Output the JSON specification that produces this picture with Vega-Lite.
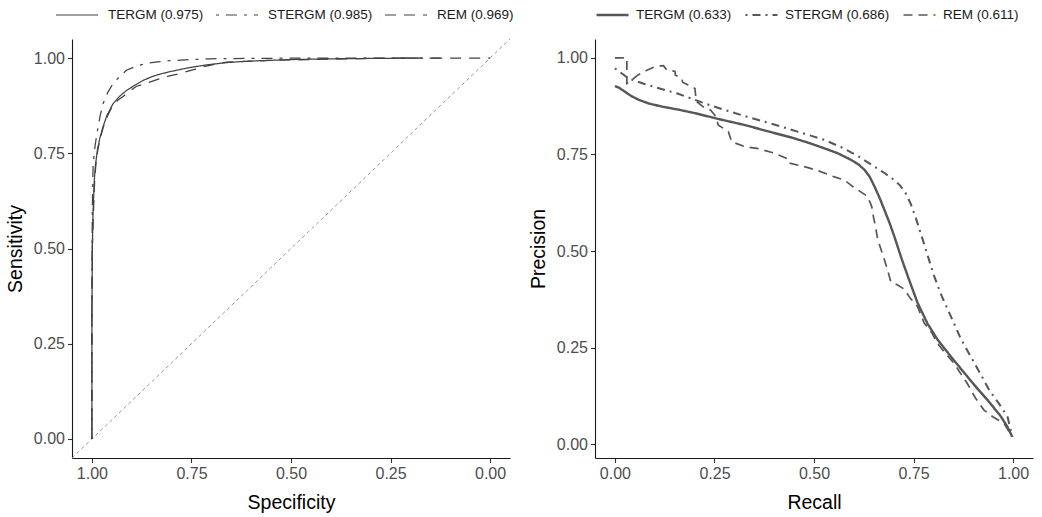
{
  "$schema": "https://vega.github.io/schema/vega-lite/v6.json",
  "background": "white",
  "padding": {"left": 5, "top": 7, "right": 5, "bottom": 5},
  "spacing": 14,
  "config": {
    "view": {"stroke": null},
    "font": "Liberation Sans",
    "axis": {
      "grid": false,
      "domainColor": "#1a1a1a",
      "domainWidth": 1.1,
      "tickColor": "#333333",
      "tickWidth": 1.1,
      "tickSize": 4.5,
      "labelFont": "Liberation Sans",
      "labelFontSize": 16,
      "labelColor": "#4D4D4D",
      "labelPadding": 3,
      "titleFont": "Liberation Sans",
      "titleFontSize": 19.5,
      "titleFontWeight": "normal",
      "titleColor": "#000000",
      "titlePadding": 8
    },
    "axisX": {"labelPadding": 3, "titlePadding": 12}
  },
  "datasets": {
    "roc": [
      {"model": "TERGM (0.975)", "spec": 1.0, "sens": 0.0},
      {"model": "TERGM (0.975)", "spec": 1.0, "sens": 0.3},
      {"model": "TERGM (0.975)", "spec": 0.999, "sens": 0.5},
      {"model": "TERGM (0.975)", "spec": 0.997, "sens": 0.6},
      {"model": "TERGM (0.975)", "spec": 0.994, "sens": 0.68},
      {"model": "TERGM (0.975)", "spec": 0.991, "sens": 0.72},
      {"model": "TERGM (0.975)", "spec": 0.986, "sens": 0.76},
      {"model": "TERGM (0.975)", "spec": 0.98, "sens": 0.79},
      {"model": "TERGM (0.975)", "spec": 0.972, "sens": 0.82},
      {"model": "TERGM (0.975)", "spec": 0.962, "sens": 0.85},
      {"model": "TERGM (0.975)", "spec": 0.947, "sens": 0.88},
      {"model": "TERGM (0.975)", "spec": 0.93, "sens": 0.9},
      {"model": "TERGM (0.975)", "spec": 0.913, "sens": 0.915},
      {"model": "TERGM (0.975)", "spec": 0.89, "sens": 0.93},
      {"model": "TERGM (0.975)", "spec": 0.87, "sens": 0.942},
      {"model": "TERGM (0.975)", "spec": 0.847, "sens": 0.952},
      {"model": "TERGM (0.975)", "spec": 0.825, "sens": 0.959},
      {"model": "TERGM (0.975)", "spec": 0.805, "sens": 0.964},
      {"model": "TERGM (0.975)", "spec": 0.76, "sens": 0.974},
      {"model": "TERGM (0.975)", "spec": 0.713, "sens": 0.982},
      {"model": "TERGM (0.975)", "spec": 0.662, "sens": 0.988},
      {"model": "TERGM (0.975)", "spec": 0.62, "sens": 0.991},
      {"model": "TERGM (0.975)", "spec": 0.579, "sens": 0.993},
      {"model": "TERGM (0.975)", "spec": 0.5, "sens": 0.996},
      {"model": "TERGM (0.975)", "spec": 0.4, "sens": 0.998},
      {"model": "TERGM (0.975)", "spec": 0.3, "sens": 0.999},
      {"model": "TERGM (0.975)", "spec": 0.18, "sens": 1.0},
      {"model": "STERGM (0.985)", "spec": 1.0, "sens": 0.0},
      {"model": "STERGM (0.985)", "spec": 1.0, "sens": 0.4},
      {"model": "STERGM (0.985)", "spec": 0.999, "sens": 0.6},
      {"model": "STERGM (0.985)", "spec": 0.997, "sens": 0.72},
      {"model": "STERGM (0.985)", "spec": 0.992, "sens": 0.77},
      {"model": "STERGM (0.985)", "spec": 0.986, "sens": 0.81},
      {"model": "STERGM (0.985)", "spec": 0.979, "sens": 0.85},
      {"model": "STERGM (0.985)", "spec": 0.972, "sens": 0.88},
      {"model": "STERGM (0.985)", "spec": 0.96, "sens": 0.91},
      {"model": "STERGM (0.985)", "spec": 0.947, "sens": 0.933},
      {"model": "STERGM (0.985)", "spec": 0.93, "sens": 0.952},
      {"model": "STERGM (0.985)", "spec": 0.913, "sens": 0.968},
      {"model": "STERGM (0.985)", "spec": 0.89, "sens": 0.978},
      {"model": "STERGM (0.985)", "spec": 0.863, "sens": 0.986},
      {"model": "STERGM (0.985)", "spec": 0.835, "sens": 0.99},
      {"model": "STERGM (0.985)", "spec": 0.805, "sens": 0.993},
      {"model": "STERGM (0.985)", "spec": 0.75, "sens": 0.996},
      {"model": "STERGM (0.985)", "spec": 0.704, "sens": 0.998},
      {"model": "STERGM (0.985)", "spec": 0.6, "sens": 0.999},
      {"model": "STERGM (0.985)", "spec": 0.45, "sens": 1.0},
      {"model": "STERGM (0.985)", "spec": 0.12, "sens": 1.0},
      {"model": "REM (0.969)", "spec": 1.0, "sens": 0.0},
      {"model": "REM (0.969)", "spec": 1.0, "sens": 0.3},
      {"model": "REM (0.969)", "spec": 0.999, "sens": 0.5},
      {"model": "REM (0.969)", "spec": 0.996, "sens": 0.6},
      {"model": "REM (0.969)", "spec": 0.993, "sens": 0.68},
      {"model": "REM (0.969)", "spec": 0.99, "sens": 0.72},
      {"model": "REM (0.969)", "spec": 0.985, "sens": 0.76},
      {"model": "REM (0.969)", "spec": 0.979, "sens": 0.79},
      {"model": "REM (0.969)", "spec": 0.971, "sens": 0.82},
      {"model": "REM (0.969)", "spec": 0.96, "sens": 0.85},
      {"model": "REM (0.969)", "spec": 0.947, "sens": 0.877},
      {"model": "REM (0.969)", "spec": 0.935, "sens": 0.889},
      {"model": "REM (0.969)", "spec": 0.921, "sens": 0.9},
      {"model": "REM (0.969)", "spec": 0.905, "sens": 0.913},
      {"model": "REM (0.969)", "spec": 0.888, "sens": 0.926},
      {"model": "REM (0.969)", "spec": 0.865, "sens": 0.933},
      {"model": "REM (0.969)", "spec": 0.846, "sens": 0.94},
      {"model": "REM (0.969)", "spec": 0.825, "sens": 0.947},
      {"model": "REM (0.969)", "spec": 0.805, "sens": 0.953},
      {"model": "REM (0.969)", "spec": 0.785, "sens": 0.958},
      {"model": "REM (0.969)", "spec": 0.767, "sens": 0.963},
      {"model": "REM (0.969)", "spec": 0.74, "sens": 0.971},
      {"model": "REM (0.969)", "spec": 0.713, "sens": 0.979},
      {"model": "REM (0.969)", "spec": 0.69, "sens": 0.984},
      {"model": "REM (0.969)", "spec": 0.662, "sens": 0.989},
      {"model": "REM (0.969)", "spec": 0.612, "sens": 0.991},
      {"model": "REM (0.969)", "spec": 0.55, "sens": 0.994},
      {"model": "REM (0.969)", "spec": 0.5, "sens": 0.995},
      {"model": "REM (0.969)", "spec": 0.4, "sens": 0.997},
      {"model": "REM (0.969)", "spec": 0.3, "sens": 0.999},
      {"model": "REM (0.969)", "spec": 0.2, "sens": 1.0},
      {"model": "REM (0.969)", "spec": 0.0, "sens": 1.0}
    ],
    "pr": [
      {"model": "TERGM (0.633)", "recall": 0.0, "precision": 0.927},
      {"model": "TERGM (0.633)", "recall": 0.01, "precision": 0.923},
      {"model": "TERGM (0.633)", "recall": 0.026, "precision": 0.912},
      {"model": "TERGM (0.633)", "recall": 0.04, "precision": 0.902},
      {"model": "TERGM (0.633)", "recall": 0.059, "precision": 0.892},
      {"model": "TERGM (0.633)", "recall": 0.085, "precision": 0.882},
      {"model": "TERGM (0.633)", "recall": 0.118, "precision": 0.874},
      {"model": "TERGM (0.633)", "recall": 0.16, "precision": 0.866},
      {"model": "TERGM (0.633)", "recall": 0.201, "precision": 0.857},
      {"model": "TERGM (0.633)", "recall": 0.251, "precision": 0.844},
      {"model": "TERGM (0.633)", "recall": 0.327, "precision": 0.826},
      {"model": "TERGM (0.633)", "recall": 0.402, "precision": 0.805},
      {"model": "TERGM (0.633)", "recall": 0.443, "precision": 0.794},
      {"model": "TERGM (0.633)", "recall": 0.49, "precision": 0.779},
      {"model": "TERGM (0.633)", "recall": 0.526, "precision": 0.766},
      {"model": "TERGM (0.633)", "recall": 0.56, "precision": 0.753},
      {"model": "TERGM (0.633)", "recall": 0.593, "precision": 0.736},
      {"model": "TERGM (0.633)", "recall": 0.612, "precision": 0.724},
      {"model": "TERGM (0.633)", "recall": 0.627, "precision": 0.71},
      {"model": "TERGM (0.633)", "recall": 0.64, "precision": 0.692},
      {"model": "TERGM (0.633)", "recall": 0.652, "precision": 0.667},
      {"model": "TERGM (0.633)", "recall": 0.665, "precision": 0.637},
      {"model": "TERGM (0.633)", "recall": 0.677, "precision": 0.606},
      {"model": "TERGM (0.633)", "recall": 0.69, "precision": 0.572},
      {"model": "TERGM (0.633)", "recall": 0.702, "precision": 0.537},
      {"model": "TERGM (0.633)", "recall": 0.72, "precision": 0.48},
      {"model": "TERGM (0.633)", "recall": 0.739, "precision": 0.425},
      {"model": "TERGM (0.633)", "recall": 0.76, "precision": 0.366},
      {"model": "TERGM (0.633)", "recall": 0.785, "precision": 0.312},
      {"model": "TERGM (0.633)", "recall": 0.81, "precision": 0.271},
      {"model": "TERGM (0.633)", "recall": 0.845, "precision": 0.225},
      {"model": "TERGM (0.633)", "recall": 0.877, "precision": 0.185},
      {"model": "TERGM (0.633)", "recall": 0.905, "precision": 0.15},
      {"model": "TERGM (0.633)", "recall": 0.936, "precision": 0.114},
      {"model": "TERGM (0.633)", "recall": 0.969, "precision": 0.072},
      {"model": "TERGM (0.633)", "recall": 0.985, "precision": 0.046},
      {"model": "TERGM (0.633)", "recall": 0.998, "precision": 0.019},
      {"model": "STERGM (0.686)", "recall": 0.0, "precision": 0.973},
      {"model": "STERGM (0.686)", "recall": 0.034, "precision": 0.947},
      {"model": "STERGM (0.686)", "recall": 0.076, "precision": 0.932},
      {"model": "STERGM (0.686)", "recall": 0.159, "precision": 0.907},
      {"model": "STERGM (0.686)", "recall": 0.243, "precision": 0.876},
      {"model": "STERGM (0.686)", "recall": 0.327, "precision": 0.849},
      {"model": "STERGM (0.686)", "recall": 0.402, "precision": 0.827},
      {"model": "STERGM (0.686)", "recall": 0.443, "precision": 0.814},
      {"model": "STERGM (0.686)", "recall": 0.526, "precision": 0.788},
      {"model": "STERGM (0.686)", "recall": 0.57, "precision": 0.768},
      {"model": "STERGM (0.686)", "recall": 0.61, "precision": 0.746},
      {"model": "STERGM (0.686)", "recall": 0.645, "precision": 0.723},
      {"model": "STERGM (0.686)", "recall": 0.677, "precision": 0.702},
      {"model": "STERGM (0.686)", "recall": 0.7, "precision": 0.685},
      {"model": "STERGM (0.686)", "recall": 0.716, "precision": 0.67},
      {"model": "STERGM (0.686)", "recall": 0.73, "precision": 0.65},
      {"model": "STERGM (0.686)", "recall": 0.743, "precision": 0.622},
      {"model": "STERGM (0.686)", "recall": 0.755, "precision": 0.588},
      {"model": "STERGM (0.686)", "recall": 0.768, "precision": 0.546},
      {"model": "STERGM (0.686)", "recall": 0.785, "precision": 0.49},
      {"model": "STERGM (0.686)", "recall": 0.8, "precision": 0.44},
      {"model": "STERGM (0.686)", "recall": 0.82, "precision": 0.385},
      {"model": "STERGM (0.686)", "recall": 0.844, "precision": 0.33},
      {"model": "STERGM (0.686)", "recall": 0.869, "precision": 0.272},
      {"model": "STERGM (0.686)", "recall": 0.894, "precision": 0.226},
      {"model": "STERGM (0.686)", "recall": 0.918, "precision": 0.182},
      {"model": "STERGM (0.686)", "recall": 0.94, "precision": 0.14},
      {"model": "STERGM (0.686)", "recall": 0.965, "precision": 0.104},
      {"model": "STERGM (0.686)", "recall": 0.986, "precision": 0.071},
      {"model": "STERGM (0.686)", "recall": 0.998, "precision": 0.019},
      {"model": "REM (0.611)", "recall": 0.0, "precision": 1.0},
      {"model": "REM (0.611)", "recall": 0.03, "precision": 1.0},
      {"model": "REM (0.611)", "recall": 0.03, "precision": 0.934},
      {"model": "REM (0.611)", "recall": 0.045, "precision": 0.945},
      {"model": "REM (0.611)", "recall": 0.058, "precision": 0.956},
      {"model": "REM (0.611)", "recall": 0.08, "precision": 0.968},
      {"model": "REM (0.611)", "recall": 0.1, "precision": 0.977},
      {"model": "REM (0.611)", "recall": 0.122, "precision": 0.98},
      {"model": "REM (0.611)", "recall": 0.13, "precision": 0.969},
      {"model": "REM (0.611)", "recall": 0.151, "precision": 0.965},
      {"model": "REM (0.611)", "recall": 0.152, "precision": 0.955},
      {"model": "REM (0.611)", "recall": 0.168, "precision": 0.947},
      {"model": "REM (0.611)", "recall": 0.17, "precision": 0.937},
      {"model": "REM (0.611)", "recall": 0.184, "precision": 0.93},
      {"model": "REM (0.611)", "recall": 0.201, "precision": 0.921},
      {"model": "REM (0.611)", "recall": 0.203, "precision": 0.9},
      {"model": "REM (0.611)", "recall": 0.205, "precision": 0.887},
      {"model": "REM (0.611)", "recall": 0.226, "precision": 0.87},
      {"model": "REM (0.611)", "recall": 0.24, "precision": 0.865},
      {"model": "REM (0.611)", "recall": 0.251, "precision": 0.852},
      {"model": "REM (0.611)", "recall": 0.26, "precision": 0.826},
      {"model": "REM (0.611)", "recall": 0.285, "precision": 0.809},
      {"model": "REM (0.611)", "recall": 0.293, "precision": 0.783},
      {"model": "REM (0.611)", "recall": 0.327, "precision": 0.77},
      {"model": "REM (0.611)", "recall": 0.36, "precision": 0.765},
      {"model": "REM (0.611)", "recall": 0.402, "precision": 0.753},
      {"model": "REM (0.611)", "recall": 0.435, "precision": 0.738},
      {"model": "REM (0.611)", "recall": 0.437, "precision": 0.728},
      {"model": "REM (0.611)", "recall": 0.485, "precision": 0.716},
      {"model": "REM (0.611)", "recall": 0.51, "precision": 0.708},
      {"model": "REM (0.611)", "recall": 0.551, "precision": 0.692},
      {"model": "REM (0.611)", "recall": 0.576, "precision": 0.684},
      {"model": "REM (0.611)", "recall": 0.6, "precision": 0.665},
      {"model": "REM (0.611)", "recall": 0.635, "precision": 0.641},
      {"model": "REM (0.611)", "recall": 0.645, "precision": 0.615},
      {"model": "REM (0.611)", "recall": 0.649, "precision": 0.59},
      {"model": "REM (0.611)", "recall": 0.655, "precision": 0.56},
      {"model": "REM (0.611)", "recall": 0.66, "precision": 0.53},
      {"model": "REM (0.611)", "recall": 0.668, "precision": 0.505},
      {"model": "REM (0.611)", "recall": 0.677, "precision": 0.477},
      {"model": "REM (0.611)", "recall": 0.685, "precision": 0.45},
      {"model": "REM (0.611)", "recall": 0.693, "precision": 0.42},
      {"model": "REM (0.611)", "recall": 0.71, "precision": 0.412},
      {"model": "REM (0.611)", "recall": 0.727, "precision": 0.401},
      {"model": "REM (0.611)", "recall": 0.74, "precision": 0.38},
      {"model": "REM (0.611)", "recall": 0.76, "precision": 0.356},
      {"model": "REM (0.611)", "recall": 0.777, "precision": 0.313},
      {"model": "REM (0.611)", "recall": 0.795, "precision": 0.29},
      {"model": "REM (0.611)", "recall": 0.81, "precision": 0.261},
      {"model": "REM (0.611)", "recall": 0.83, "precision": 0.235},
      {"model": "REM (0.611)", "recall": 0.852, "precision": 0.209},
      {"model": "REM (0.611)", "recall": 0.87, "precision": 0.18},
      {"model": "REM (0.611)", "recall": 0.885, "precision": 0.157},
      {"model": "REM (0.611)", "recall": 0.905, "precision": 0.12},
      {"model": "REM (0.611)", "recall": 0.927, "precision": 0.088},
      {"model": "REM (0.611)", "recall": 0.95, "precision": 0.07},
      {"model": "REM (0.611)", "recall": 0.977, "precision": 0.054},
      {"model": "REM (0.611)", "recall": 0.998, "precision": 0.019}
    ]
  },
  "resolve": {
    "scale": {"strokeDash": "independent", "strokeWidth": "independent", "x": "independent", "y": "independent"},
    "legend": {"strokeDash": "independent", "strokeWidth": "independent"}
  },
  "hconcat": [
    {
      "width": 438,
      "height": 419,
      "layer": [
        {
          "data": {"values": [{"spec": 1.05, "sens": -0.05}, {"spec": -0.05, "sens": 1.05}]},
          "mark": {"type": "line", "color": "#8c8c8c", "strokeWidth": 0.9, "strokeDash": [3.5, 3]},
          "encoding": {
            "x": {"field": "spec", "type": "quantitative", "title": "Specificity", "scale": {"domain": [-0.05, 1.05], "reverse": true, "nice": false, "zero": false}, "axis": {"values": [0, 0.25, 0.5, 0.75, 1], "format": ".2f"}},
            "y": {"field": "sens", "type": "quantitative", "title": "Sensitivity", "scale": {"domain": [-0.05, 1.05], "nice": false, "zero": false}, "axis": {"values": [0, 0.25, 0.5, 0.75, 1], "format": ".2f"}}
          }
        },
        {
          "data": {"name": "roc"},
          "mark": {"type": "line", "color": "#424242", "strokeWidth": 1.25},
          "encoding": {
            "x": {"field": "spec", "type": "quantitative", "title": "Specificity"},
            "y": {"field": "sens", "type": "quantitative", "title": "Sensitivity"},
            "order": {"value": null},
            "strokeDash": {
              "field": "model",
              "type": "nominal",
              "scale": {"domain": ["TERGM (0.975)", "STERGM (0.985)", "REM (0.969)"], "range": [[1, 0], [3, 7, 11, 7], [11, 8]]},
              "legend": {
                "title": null,
                "orient": "none",
                "legendX": -17,
                "legendY": -32,
                "direction": "horizontal",
                "columns": 3,
                "padding": 0,
                "symbolType": "stroke",
                "symbolSize": 1764,
                "symbolStrokeColor": "#424242",
                "symbolStrokeWidth": 1.2,
                "clipHeight": 16,
                "labelFont": "Liberation Sans",
                "labelFontSize": 13.5,
                "labelColor": "#1a1a1a",
                "labelOffset": 9,
                "columnPadding": 11
              }
            }
          }
        }
      ]
    },
    {
      "width": 438,
      "height": 419,
      "data": {"name": "pr"},
      "mark": {"type": "line", "color": "#575757"},
      "encoding": {
        "x": {"field": "recall", "type": "quantitative", "title": "Recall", "scale": {"domain": [-0.05, 1.05], "nice": false, "zero": false}, "axis": {"values": [0, 0.25, 0.5, 0.75, 1], "format": ".2f"}},
        "y": {"field": "precision", "type": "quantitative", "title": "Precision", "scale": {"domain": [-0.036, 1.049], "nice": false, "zero": false}, "axis": {"values": [0, 0.25, 0.5, 0.75, 1], "format": ".2f"}},
        "order": {"value": null},
        "strokeDash": {
          "field": "model",
          "type": "nominal",
          "scale": {"domain": ["TERGM (0.633)", "STERGM (0.686)", "REM (0.611)"], "range": [[1, 0], [2, 5, 8, 5], [9, 6]]},
          "legend": {
            "title": null,
            "orient": "none",
            "legendX": 0,
            "legendY": -32,
            "direction": "horizontal",
            "columns": 3,
            "padding": 0,
            "symbolType": "stroke",
            "symbolSize": 1024,
            "symbolStrokeColor": "#575757",
            "clipHeight": 16,
            "labelFont": "Liberation Sans",
            "labelFontSize": 13.5,
            "labelColor": "#1a1a1a",
            "labelOffset": 6,
            "columnPadding": 12
          }
        },
        "strokeWidth": {
          "field": "model",
          "type": "nominal",
          "scale": {"domain": ["TERGM (0.633)", "STERGM (0.686)", "REM (0.611)"], "range": [2.4, 1.7, 1.8]},
          "legend": {
            "title": null,
            "orient": "none",
            "legendX": 0,
            "legendY": -32,
            "direction": "horizontal",
            "columns": 3,
            "padding": 0,
            "symbolType": "stroke",
            "symbolSize": 1024,
            "symbolStrokeColor": "#575757",
            "clipHeight": 16,
            "labelFont": "Liberation Sans",
            "labelFontSize": 13.5,
            "labelColor": "#1a1a1a",
            "labelOffset": 6,
            "columnPadding": 12
          }
        }
      }
    }
  ]
}
